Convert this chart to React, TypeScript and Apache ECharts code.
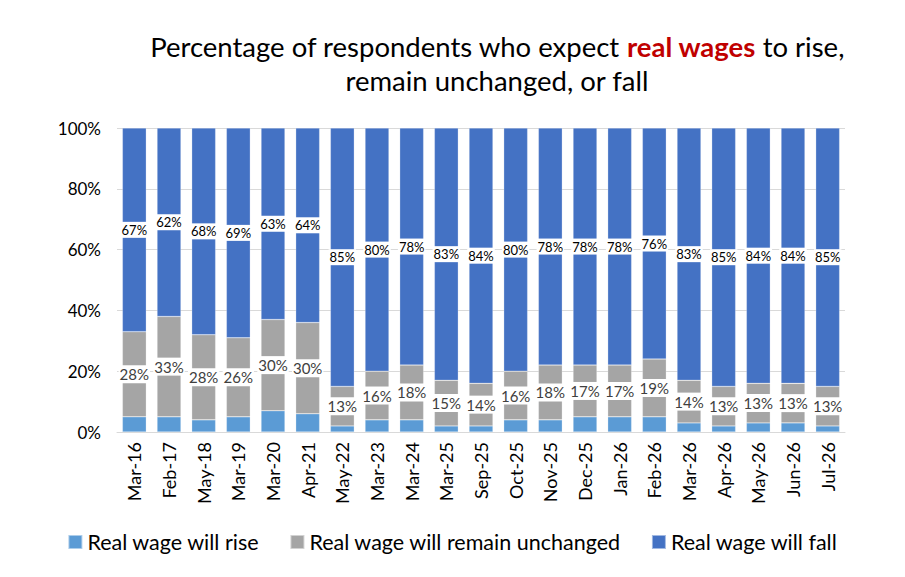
import React, { useEffect, useRef } from 'react';
import * as echarts from 'echarts';

const categories = [
  'Mar-16', 'Feb-17', 'May-18', 'Mar-19', 'Mar-20', 'Apr-21', 'May-22', 'Mar-23', 'Mar-24', 'Mar-25',
  'Sep-25', 'Oct-25', 'Nov-25', 'Dec-25', 'Jan-26', 'Feb-26', 'Mar-26', 'Apr-26', 'May-26', 'Jun-26', 'Jul-26',
];
const riseValues = [5, 5, 4, 5, 7, 6, 2, 4, 4, 2, 2, 4, 4, 5, 5, 5, 3, 2, 3, 3, 2];
const unchangedValues = [28, 33, 28, 26, 30, 30, 13, 16, 18, 15, 14, 16, 18, 17, 17, 19, 14, 13, 13, 13, 13];
const fallValues = [67, 62, 68, 69, 63, 64, 85, 80, 78, 83, 84, 80, 78, 78, 78, 76, 83, 85, 84, 84, 85];
const yTicks = [0, 20, 40, 60, 80, 100];

const FONT = 'Lato, "Open Sans", sans-serif';

function App() {
  const chartRef = useRef<HTMLDivElement>(null);

  useEffect(() => {
    if (!chartRef.current) return;
    const chart = echarts.init(chartRef.current, null, { renderer: 'svg' });

    const option = {
      animation: false,
      backgroundColor: '#ffffff',
      textStyle: { fontFamily: FONT },
      title: {
        text: 'Percentage of respondents who expect {red|real wages} to rise,\nremain unchanged, or fall',
        left: 492,
        top: 24,
        textAlign: 'center',
        textStyle: {
          fontFamily: FONT,
          fontSize: 27.5,
          fontWeight: 'normal',
          color: '#000000',
          lineHeight: 34,
          rich: {
            red: { fontFamily: FONT, fontSize: 27.5, fontWeight: 'bold', color: '#C00000', lineHeight: 34 },
          },
        },
      },
      legend: {
        bottom: 19,
        left: 'center',
        itemWidth: 14,
        itemHeight: 14,
        itemGap: 30,
        icon: 'rect',
        textStyle: { fontFamily: FONT, fontSize: 21.5, color: '#000000' },
        data: ['Real wage will rise', 'Real wage will remain unchanged', 'Real wage will fall'],
      },
      grid: { left: 117, right: 60, top: 128, bottom: 145, containLabel: false },
      xAxis: {
        type: 'category',
        data: categories,
        axisLine: { lineStyle: { color: '#D9D9D9' } },
        axisTick: { show: false },
        axisLabel: { rotate: 90, fontSize: 18, color: '#000000', fontFamily: FONT, margin: 10 },
      },
      yAxis: {
        type: 'value',
        min: yTicks[0],
        max: yTicks[yTicks.length - 1],
        interval: 20,
        axisLine: { show: false },
        axisTick: { show: false },
        splitLine: { lineStyle: { color: '#D9D9D9' } },
        axisLabel: { formatter: '{value}%', fontSize: 17, color: '#000000', fontFamily: FONT, margin: 16 },
      },
      series: [
        {
          name: 'Real wage will rise',
          type: 'bar',
          stack: 'total',
          barCategoryGap: '31%',
          data: riseValues,
          itemStyle: { color: '#5B9BD5', borderColor: 'rgba(255,255,255,0.5)', borderWidth: 0.5 },
        },
        {
          name: 'Real wage will remain unchanged',
          type: 'bar',
          stack: 'total',
          data: unchangedValues,
          itemStyle: { color: '#A5A5A5', borderColor: 'rgba(255,255,255,0.5)', borderWidth: 0.5 },
          label: {
            show: true,
            position: 'inside',
            formatter: '{c}%',
            fontSize: 15,
            color: '#404040',
            fontFamily: FONT,
            backgroundColor: '#ffffff',
            padding: [2, 1, 1, 1],
          },
        },
        {
          name: 'Real wage will fall',
          type: 'bar',
          stack: 'total',
          data: fallValues,
          itemStyle: { color: '#4472C4', borderColor: 'rgba(255,255,255,0.5)', borderWidth: 0.5 },
          label: {
            show: true,
            position: 'inside',
            formatter: '{c}%',
            fontSize: 13,
            color: '#000000',
            fontFamily: FONT,
            backgroundColor: '#ffffff',
            padding: [2, 1, 1, 1],
          },
        },
      ],
    };

    chart.setOption(option);
    return () => {
      chart.dispose();
    };
  }, []);

  return (
    <div
      ref={chartRef}
      style={{ width: 905, height: 577, position: 'absolute', left: 0, top: 0 }}
    />
  );
}

export default App;
